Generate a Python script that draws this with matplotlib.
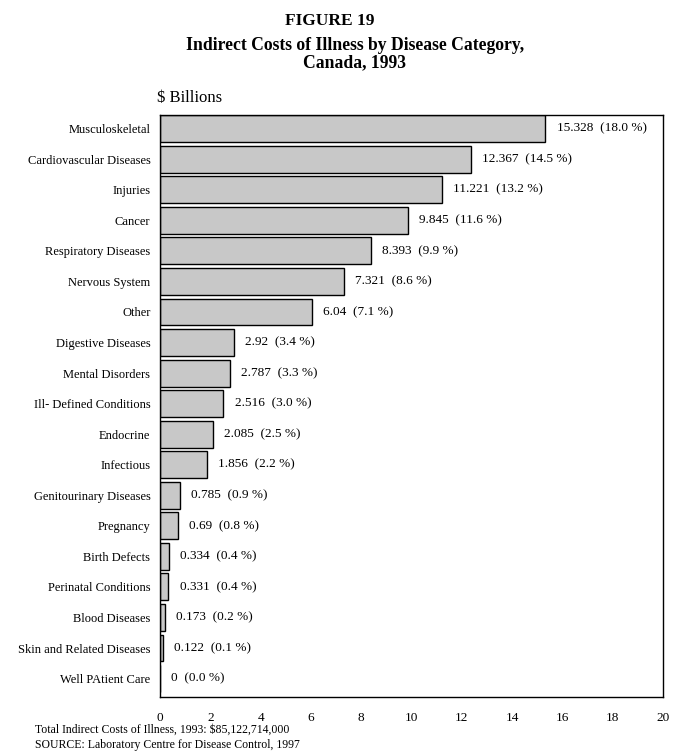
import matplotlib.pyplot as plt
import numpy as np

categories = ["Musculoskeletal", "Cardiovascular Diseases", "Injuries", "Cancer",
              "Respiratory Diseases", "Nervous System", "Other", "Digestive Diseases",
              "Mental Disorders", "Ill- Defined Conditions", "Endocrine", "Infectious",
              "Genitourinary Diseases", "Pregnancy", "Birth Defects", "Perinatal Conditions",
              "Blood Diseases", "Skin and Related Diseases", "Well PAtient Care"]
costs = [15.328, 12.367, 11.221, 9.845, 8.393, 7.321, 6.04, 2.92, 2.787, 2.516,
         2.085, 1.856, 0.785, 0.69, 0.334, 0.331, 0.173, 0.122, 0]
shares = [18.0, 14.5, 13.2, 11.6, 9.9, 8.6, 7.1, 3.4, 3.3, 3.0,
          2.5, 2.2, 0.9, 0.8, 0.4, 0.4, 0.2, 0.1, 0.0]
xticks = [0, 2, 4, 6, 8, 10, 12, 14, 16, 18, 20]

plt.rcParams['font.family'] = ['Liberation Serif', 'DejaVu Serif']

fig = plt.figure(figsize=(6.73, 7.51), dpi=100)
ax = fig.add_axes([0.238, 0.072, 0.747, 0.775])

y = np.arange(len(categories))
ax.barh(y, costs, height=0.88, color='#c8c8c8', edgecolor='black', linewidth=1.0)

for yi, c, s in zip(y, costs, shares):
    ax.annotate(f"{c:g}  ({s:.1f} %)", xy=(c, yi), xytext=(8, 0),
                textcoords='offset points', va='center', ha='left', fontsize=9.5)

ax.set_xlim(0, 20)
ax.set_ylim(len(categories) - 0.4, -0.45)
ax.set_yticks(y)
ax.set_yticklabels(categories, fontsize=9)
ax.set_xticks(xticks)
ax.set_xticklabels([str(t) for t in xticks], fontsize=9.5)
ax.tick_params(axis='both', length=0)
ax.tick_params(axis='y', pad=7)
ax.tick_params(axis='x', pad=11)
for sp in ax.spines.values():
    sp.set_linewidth(1.0)

fig.text(0.49, 0.972, "FIGURE 19", ha='center', va='center', fontsize=12.5, fontweight='bold')
fig.text(0.527, 0.928, "Indirect Costs of Illness by Disease Category,\nCanada, 1993",
         ha='center', va='center', fontsize=12.7, fontweight='bold', linespacing=0.95)
fig.text(0.233, 0.869, "$ Billions", ha='left', va='center', fontsize=12)
fig.text(0.052, 0.028, "Total Indirect Costs of Illness, 1993: $85,122,714,000",
         ha='left', va='center', fontsize=8.5)
fig.text(0.052, 0.008, "SOURCE: Laboratory Centre for Disease Control, 1997",
         ha='left', va='center', fontsize=8.5)

fig.savefig("out.png", dpi=100)
